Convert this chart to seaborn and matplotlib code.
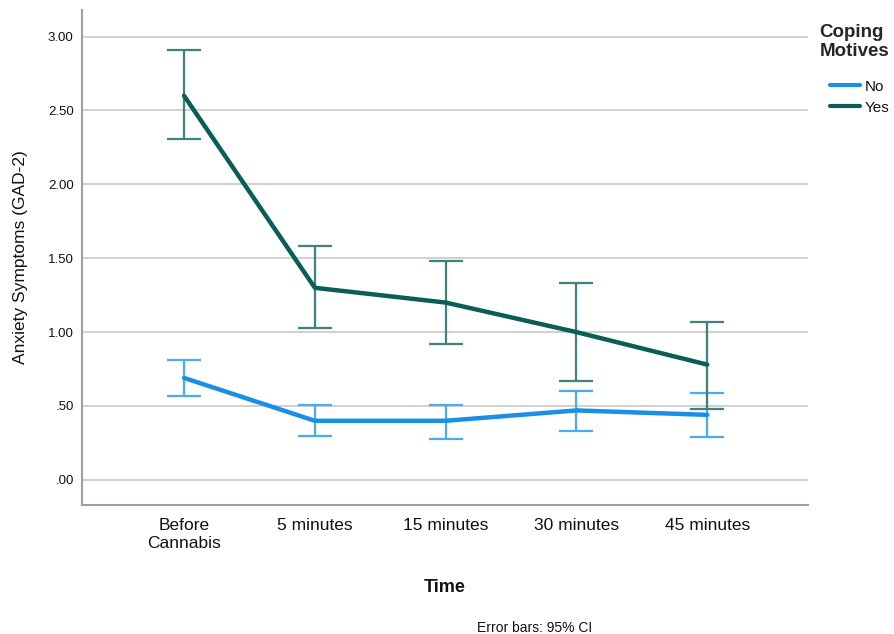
import matplotlib
matplotlib.use("Agg")
import matplotlib.pyplot as plt
import seaborn as sns
import pandas as pd
import numpy as np
from matplotlib.lines import Line2D

times = ["Before\nCannabis", "5 minutes", "15 minutes", "30 minutes", "45 minutes"]
groups = ["No", "Yes"]
mean_no = [0.69, 0.40, 0.40, 0.47, 0.44]
low_no = [0.57, 0.30, 0.28, 0.33, 0.29]
high_no = [0.81, 0.51, 0.51, 0.60, 0.59]
mean_yes = [2.60, 1.30, 1.20, 1.00, 0.78]
low_yes = [2.31, 1.03, 0.92, 0.67, 0.48]
high_yes = [2.91, 1.58, 1.48, 1.33, 1.07]
yticks = [0.0, 0.5, 1.0, 1.5, 2.0, 2.5, 3.0]
ytick_labels = [".00", ".50", "1.00", "1.50", "2.00", "2.50", "3.00"]

sns.set_theme(style="white")
plt.rcParams['font.family'] = ['Liberation Sans', 'DejaVu Sans']

line_colors = {"No": "#1b8fe3", "Yes": "#0b5d58"}
err_colors = {"No": "#4aaced", "Yes": "#3f817d"}

df = pd.DataFrame({
    "Time": list(range(len(times))) * 2,
    "Coping Motives": ["No"] * 5 + ["Yes"] * 5,
    "mean": mean_no + mean_yes,
    "low": low_no + low_yes,
    "high": high_no + high_yes,
})

fig = plt.figure(figsize=(8.95, 6.34), dpi=100)
ax = fig.add_axes([82/895, 1 - 505/634, (808-82)/895, (505-10)/634])

for y in yticks:
    ax.axhline(y, color="#c8c8c8", lw=1.2, zorder=0)

for g in groups:
    sub = df[df["Coping Motives"] == g]
    ax.errorbar(sub["Time"], sub["mean"],
                yerr=[sub["mean"] - sub["low"], sub["high"] - sub["mean"]],
                fmt="none", ecolor=err_colors[g], elinewidth=1.6,
                capsize=12, capthick=1.6, zorder=2)

sns.lineplot(data=df, x="Time", y="mean", hue="Coping Motives",
             palette=line_colors, hue_order=groups, lw=3.2, ax=ax,
             zorder=3, legend=False)

ax.set_xlim(-0.78, 4.77)
ax.set_ylim(-0.17, 3.18)
ax.set_yticks(yticks)
ax.set_yticklabels(ytick_labels, fontsize=9.5, color="#111111")
ax.set_xticks(range(len(times)))
ax.set_xticklabels(times, fontsize=12.5, color="#111111")
for t in ax.get_xticklabels():
    t.set_linespacing(1.3)
ax.tick_params(axis="both", length=0, pad=6)
ax.tick_params(axis="x", pad=9)

for s in ["top", "right"]:
    ax.spines[s].set_visible(False)
for s in ["left", "bottom"]:
    ax.spines[s].set_color("#a0a0a0")
    ax.spines[s].set_linewidth(1.5)

ax.set_xlabel("Time", fontsize=13, fontweight="bold", labelpad=20, color="#111111")
ax.set_ylabel("Anxiety Symptoms (GAD-2)", fontsize=12.5, labelpad=14, color="#111111")

handles = [Line2D([], [], color=line_colors[g], lw=3) for g in groups]
leg = fig.legend(handles, groups, title="Coping\nMotives",
                 loc="upper left", bbox_to_anchor=(806/895, 1 - 10/634),
                 frameon=False, fontsize=11, handlelength=2.0,
                 handletextpad=0.3, labelspacing=0.45, alignment="right")
leg.get_title().set_fontweight("bold")
leg.get_title().set_fontsize(13.5)
leg.get_title().set_linespacing(1.2)
leg._legend_box.sep = 14
for t in leg.get_texts():
    t.set_color("#111111")

fig.text(535/895, 1 - 628/634, "Error bars: 95% CI", ha="center", va="center",
         fontsize=10, color="#111111")

fig.savefig("out.png", dpi=100)
